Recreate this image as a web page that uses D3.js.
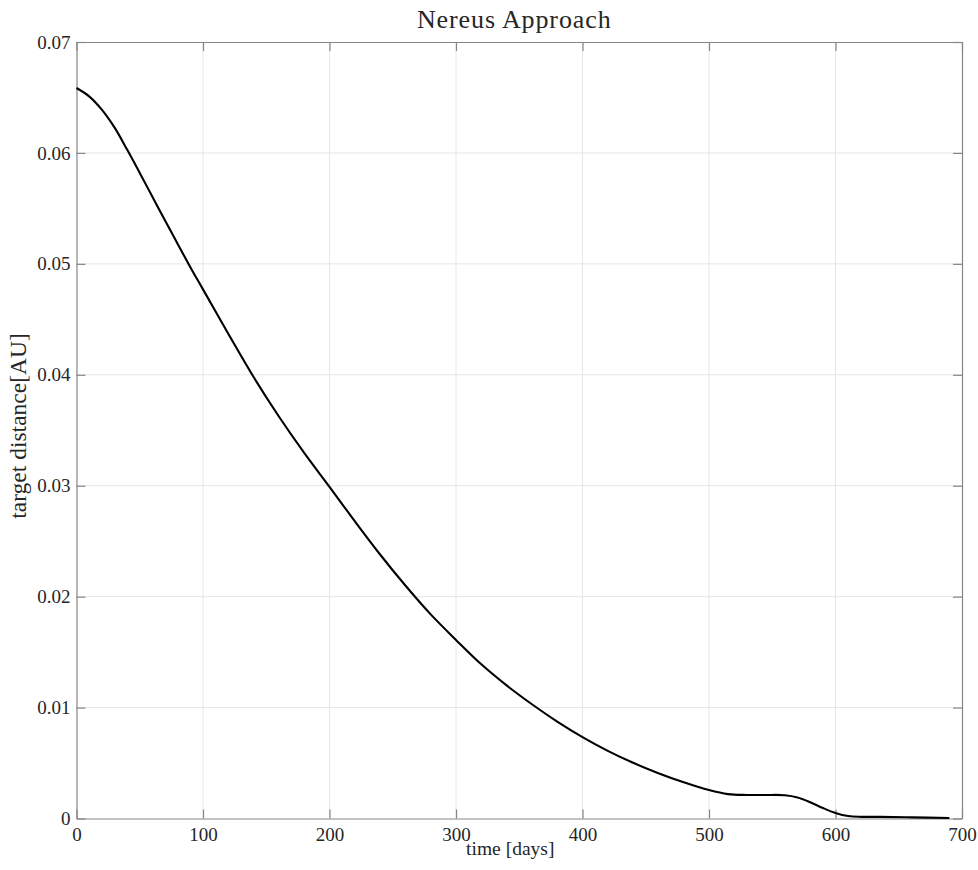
<!DOCTYPE html>
<html>
<head>
<meta charset="utf-8">
<script src="https://cdn.jsdelivr.net/npm/d3@7"></script>
<style>
  html, body { margin: 0; padding: 0; background: #ffffff; }
  svg { display: block; }
  text { font-family: "Liberation Serif", "Times New Roman", serif; fill: #262626; }
</style>
</head>
<body>
<svg id="chart" width="978" height="870"></svg>
<script>
// Spacecraft–Nereus distance during the approach phase
const timeDays = [0, 10, 20, 30, 40, 50, 60, 70, 80, 90, 100, 120, 140, 160, 180, 200, 220,
  240, 260, 280, 300, 320, 340, 360, 380, 400, 420, 440, 460, 480, 500, 515, 530, 545, 560,
  570, 580, 590, 600, 610, 620, 635, 660, 690];
const distanceAU = [0.06585, 0.0651, 0.0639, 0.0623, 0.0603, 0.0582, 0.05605, 0.0539,
  0.0518, 0.0497, 0.0477, 0.0437, 0.0398, 0.03624, 0.03296, 0.0299, 0.0268, 0.0238, 0.0210,
  0.0184, 0.0161, 0.0139, 0.0120, 0.0103, 0.00874, 0.00734, 0.0061, 0.00502, 0.00408,
  0.00326, 0.00256, 0.0022, 0.00212, 0.00212, 0.0021, 0.0019, 0.00147, 0.00095, 0.0005,
  0.00022, 0.00015, 0.00015, 0.0001, 0.00005];
const xTicks = [0, 100, 200, 300, 400, 500, 600, 700];
const yTicks = [0, 0.01, 0.02, 0.03, 0.04, 0.05, 0.06, 0.07];

const titleText = "Nereus Approach";
const xLabelText = "time [days]";
const yLabelText = "target distance[AU]";

const plot = { left: 76.5, right: 962, top: 42, bottom: 818.5 };
const svg = d3.select("#chart");

const x = d3.scaleLinear().domain([0, 700]).range([plot.left, plot.right]);
const y = d3.scaleLinear().domain([0, 0.07]).range([plot.bottom, plot.top]);

const axisColor = "#868686";
const gridColor = "#e6e6e6";
const tickLen = 9;

// grid
const grid = svg.append("g");
grid.selectAll("line.vx").data(xTicks.slice(1, -1)).join("line")
  .attr("x1", d => x(d)).attr("x2", d => x(d))
  .attr("y1", plot.top).attr("y2", plot.bottom)
  .attr("stroke", gridColor).attr("stroke-width", 1);
grid.selectAll("line.hy").data(yTicks.slice(1, -1)).join("line")
  .attr("x1", plot.left).attr("x2", plot.right)
  .attr("y1", d => y(d)).attr("y2", d => y(d))
  .attr("stroke", gridColor).attr("stroke-width", 1);

// axes (ticks pointing inward, box closed on all four sides)
const fmtY = d => d === 0 ? "0" : d3.format(".2f")(d);
const styleAxis = g => {
  g.select(".domain").attr("stroke", axisColor).attr("stroke-width", 1.2);
  g.selectAll(".tick line").attr("stroke", axisColor).attr("stroke-width", 1.2);
  g.selectAll(".tick text").attr("fill", "#262626").style("font-size", "19px")
    .style("font-family", '"Liberation Serif", serif');
};

svg.append("g").attr("transform", `translate(0,${plot.bottom})`)
  .call(d3.axisBottom(x).tickValues(xTicks).tickFormat(d3.format("d"))
    .tickSizeInner(-tickLen).tickSizeOuter(0).tickPadding(9))
  .call(styleAxis);
svg.append("g").attr("transform", `translate(0,${plot.top})`)
  .call(d3.axisTop(x).tickValues(xTicks).tickFormat("")
    .tickSizeInner(-tickLen).tickSizeOuter(0))
  .call(styleAxis);
svg.append("g").attr("transform", `translate(${plot.left},0)`)
  .call(d3.axisLeft(y).tickValues(yTicks).tickFormat(fmtY)
    .tickSizeInner(-tickLen).tickSizeOuter(0).tickPadding(6))
  .call(styleAxis);
svg.append("g").attr("transform", `translate(${plot.right},0)`)
  .call(d3.axisRight(y).tickValues(yTicks).tickFormat("")
    .tickSizeInner(-tickLen).tickSizeOuter(0))
  .call(styleAxis);

// distance curve
const data = timeDays.map((t, i) => ({ t, v: distanceAU[i] }));
svg.append("path")
  .datum(data)
  .attr("fill", "none")
  .attr("stroke", "#000000")
  .attr("stroke-width", 2.1)
  .attr("stroke-linejoin", "round")
  .attr("d", d3.line().x(d => x(d.t)).y(d => y(d.v)).curve(d3.curveCatmullRom.alpha(0.5)));

// title and axis labels
svg.append("text")
  .attr("x", (plot.left + plot.right) / 2 - 5).attr("y", 28)
  .attr("text-anchor", "middle")
  .style("font-size", "26px").style("letter-spacing", "0.9px")
  .text(titleText);
svg.append("text")
  .attr("x", (plot.left + plot.right) / 2 - 9).attr("y", 855)
  .attr("text-anchor", "middle")
  .style("font-size", "19.5px")
  .text(xLabelText);
svg.append("text")
  .attr("transform", `translate(26,${426}) rotate(-90)`)
  .attr("text-anchor", "middle")
  .style("font-size", "23.5px")
  .text(yLabelText);
</script>
</body>
</html>
